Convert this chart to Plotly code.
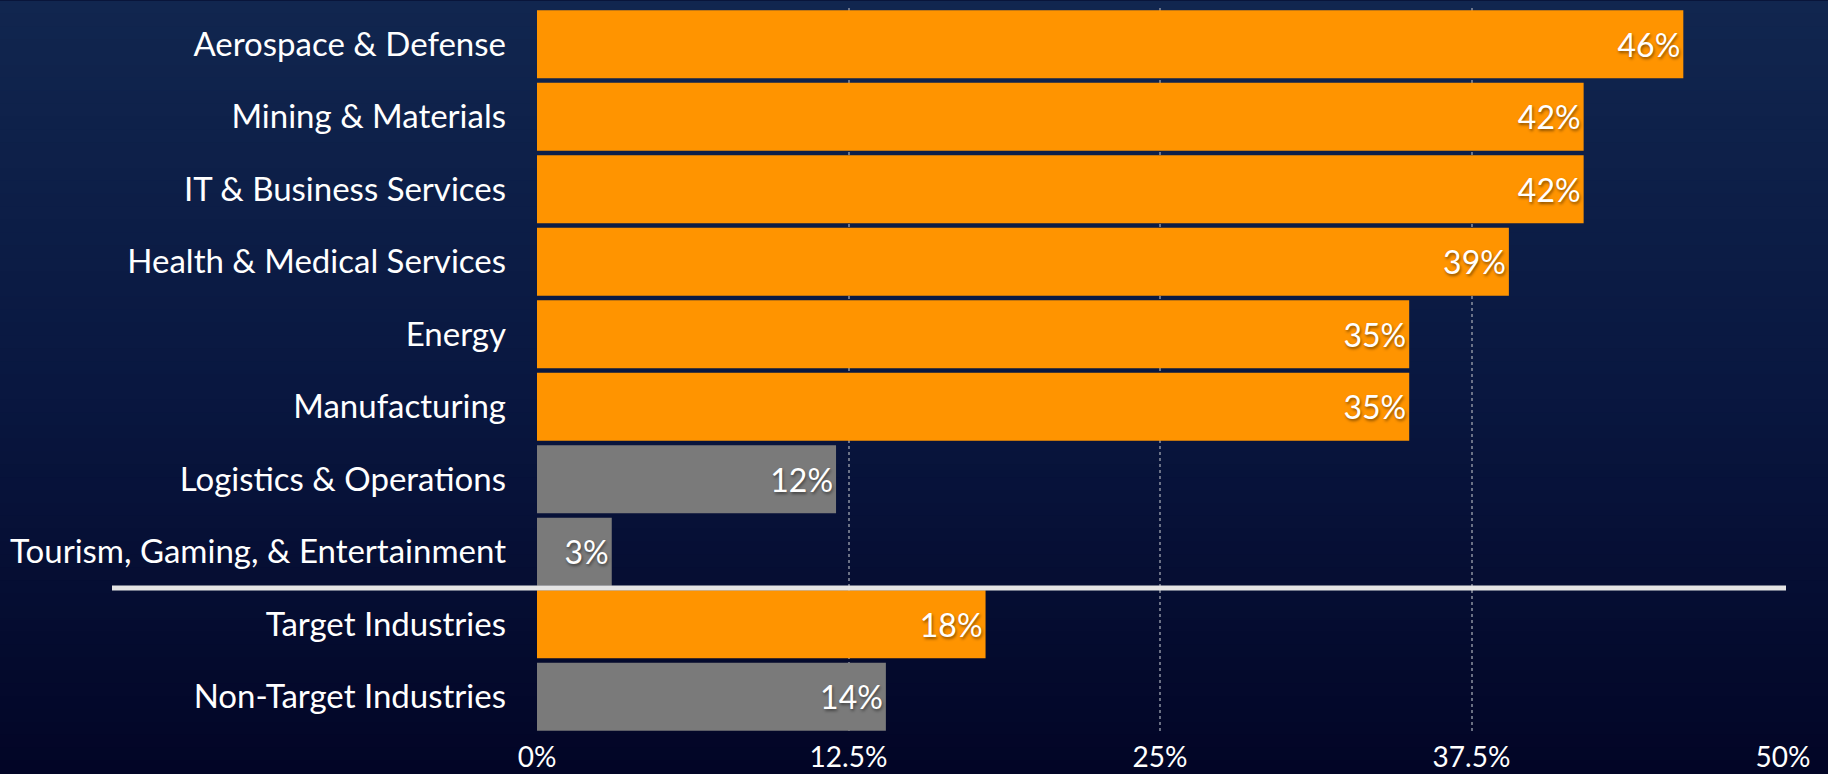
import plotly.graph_objects as go

categories = [
    "Aerospace & Defense",
    "Mining & Materials",
    "IT & Business Services",
    "Health & Medical Services",
    "Energy",
    "Manufacturing",
    "Logistics & Operations",
    "Tourism, Gaming, & Entertainment",
    "Target Industries",
    "Non-Target Industries",
]
values = [46, 42, 42, 39, 35, 35, 12, 3, 18, 14]
is_target = [True, True, True, True, True, True, False, False, True, False]
tick_vals = [0, 12.5, 25, 37.5, 50]
tick_text = ["0%", "12.5%", "25%", "37.5%", "50%"]

ORANGE = "#ff9400"
GRAY = "#7a7a7a"
colors = [ORANGE if t else GRAY for t in is_target]

W, H = 1828, 774
M_L, M_R, M_T, M_B = 537, 45, 7.5, 40.5
FONT = "Lato"

fig = go.Figure(
    go.Bar(
        x=values,
        y=categories,
        orientation="h",
        marker=dict(color=colors, line=dict(width=0)),
        text=[f"{v}%" for v in values],
        textposition="inside",
        insidetextanchor="end",
        textfont=dict(family=FONT, size=32, color="white",
                      shadow="1px 2px 3px rgba(0,0,0,0.45)"),
        hoverinfo="skip",
    )
)

# vertical background gradient (stepped bands)
stops = [(0.0, (17, 38, 79)), (0.5, (9, 23, 64)), (1.0, (2, 5, 38))]


def col_at(t):
    for (t0, c0), (t1, c1) in zip(stops[:-1], stops[1:]):
        if t0 <= t <= t1:
            f = (t - t0) / (t1 - t0)
            return "rgb(%d,%d,%d)" % tuple(round(a + (b - a) * f) for a, b in zip(c0, c1))
    return "rgb(%d,%d,%d)" % stops[-1][1]


plot_h = H - M_T - M_B
plot_w = W - M_L - M_R
shapes = []
N = 60
for i in range(N):
    p0 = H * i / N
    p1 = H * (i + 1) / N + 1
    shapes.append(dict(
        type="rect", xref="paper", yref="paper", layer="below",
        x0=-M_L / plot_w - 0.01, x1=1 + M_R / plot_w + 0.01,
        y0=(H - M_B - p1) / plot_h, y1=(H - M_B - p0) / plot_h,
        fillcolor=col_at((i + 0.5) / N), line=dict(width=0),
    ))

# separator line between industries and summary rows
shapes.append(dict(
    type="line", xref="paper", yref="y",
    x0=(112 - M_L) / plot_w, x1=(1786 - M_L) / plot_w,
    y0=7.5, y1=7.5,
    line=dict(color="#e4e4e4", width=5),
    layer="above",
))

fig.update_layout(
    width=W, height=H,
    margin=dict(l=M_L, r=M_R, t=M_T, b=M_B, pad=0, autoexpand=False),
    paper_bgcolor="rgb(2,5,38)",
    plot_bgcolor="rgba(0,0,0,0)",
    bargap=0.065,
    showlegend=False,
    shapes=shapes,
    xaxis=dict(
        range=[0, 50],
        tickvals=tick_vals, ticktext=tick_text,
        showgrid=True, gridcolor="rgba(140,145,160,0.75)", gridwidth=1.5, griddash="dot",
        zeroline=False, showline=False, ticks="",
        ticklabelstandoff=5,
        automargin=False,
        tickfont=dict(family=FONT, size=28, color="white"),
        fixedrange=True,
    ),
    yaxis=dict(
        autorange="reversed",
        showgrid=False, zeroline=False, showline=False, ticks="",
        ticklabelstandoff=30,
        automargin=False,
        tickfont=dict(family=FONT, size=33, color="white"),
        fixedrange=True,
    ),
)

fig.write_html("out.html")
